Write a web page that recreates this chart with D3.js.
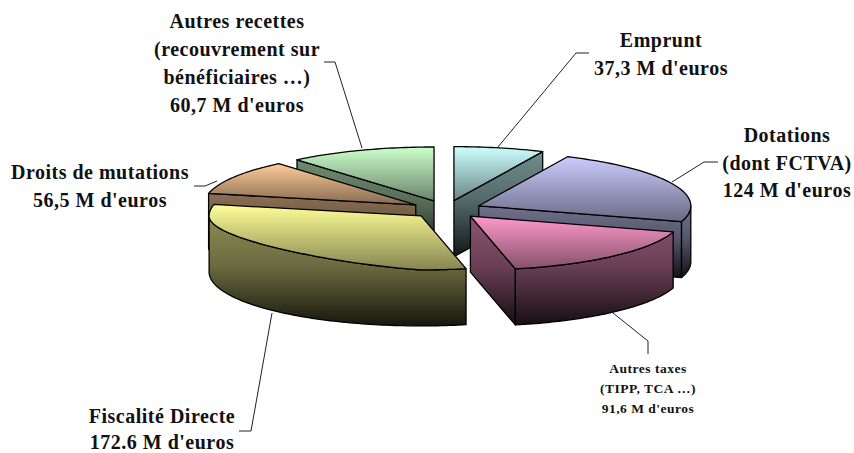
<!DOCTYPE html>
<html>
<head>
<meta charset="utf-8">
<script src="https://cdn.jsdelivr.net/npm/d3@7"></script>
<style>
  html, body { margin: 0; padding: 0; background: #fff; }
  svg { display: block; }
  text { font-family: "Liberation Serif", serif; font-weight: bold; fill: #111; text-anchor: middle; letter-spacing: 0.5px; }
</style>
</head>
<body>
<svg width="854" height="453"></svg>
<script>
// clockwise from 12 o'clock
const categories = ['Emprunt', 'Dotations', 'Autres taxes', 'Fiscalité Directe', 'Droits de mutations', 'Autres recettes']
const values = [37.3, 124, 91.6, 172.6, 56.5, 60.7]
const colors = ['#ccffff', '#ccccff', '#ff99cc', '#ffff99', '#ffcc99', '#ccffcc']

const labelLines = [
  ['Emprunt', "37,3 M d'euros"],
  ['Dotations', '(dont FCTVA)', "124 M d'euros"],
  ['Autres taxes', '(TIPP, TCA …)', "91,6 M d'euros"],
  ['Fiscalité Directe', "172.6 M d'euros"],
  ['Droits de mutations', "56,5 M d'euros"],
  ['Autres recettes', '(recouvrement sur', 'bénéficiaires …)', "60,7 M d'euros"]
]

// label placement: centre x, first baseline, line step, font size
const labelX = [661, 787, 648, 162, 100, 237]
const labelY = [47, 142, 373, 423, 179, 28]
const labelStep = [28, 27.5, 20, 25.5, 28, 28]
const labelSize = [20, 20, 13.5, 20, 20, 20]

// leader lines, in page pixels
const leaders = [
  [[498, 147], [576, 53], [589, 53]],
  [[672, 182], [704, 162], [718, 162]],
  [[613, 313], [648, 341], [648, 354]],
  [[272, 313], [251, 431], [239, 431]],
  [[217, 181], [205, 186], [194, 186]],
  [[362, 148], [335, 62], [324, 62]]
]

const cx = 446.3, cy = 209.5, rx = 212, ry = 54
const depth = 56
const explode = 0.168
const flatten = 7.5 // the reference's top rim sits higher in the front left quarter

const svg = d3.select('svg')
const defs = svg.append('defs')

// unit disc -> page
const x = d3.scaleLinear().domain([-1, 1]).range([cx - rx, cx + rx])
const y = d3.scaleLinear().domain([-1, 1]).range([cy + ry, cy - ry])

const pie = d3.pie().sort(null).startAngle(0).endAngle(2 * Math.PI)
const slices = pie(values).map((d, i) => {
  const mid = (d.startAngle + d.endAngle) / 2
  return { ...d, i, mid, ox: explode * Math.sin(mid), oy: explode * Math.cos(mid) }
})

const px = (s, r, a) => [x(s.ox + r * Math.sin(a)), y(s.oy + r * Math.cos(a))]
const line = d3.line()
const down = p => [p[0], p[1] + depth]

function rimPoints(s, a0, a1) {
  const n = Math.max(2, Math.ceil((a1 - a0) / 0.02))
  return d3.range(n + 1).map(k => px(s, 1, a0 + (a1 - a0) * k / n))
}

function topRim(s, a0, a1) {
  const n = rimPoints(s, a0, a1).length - 1
  return rimPoints(s, a0, a1).map((p, k) => {
    const a = a0 + (a1 - a0) * k / n
    const lift = a > Math.PI && a < 3 * Math.PI / 2 ? flatten * Math.sin(2 * (a - Math.PI)) : 0
    return [p[0], p[1] - lift]
  })
}

function sidePolygons(s) {
  const polys = []
  const apex = px(s, 0, 0)
  if (Math.sin(s.startAngle) < -1e-6) {
    const p = px(s, 1, s.startAngle)
    polys.push([apex, p, down(p), down(apex)])
  }
  if (Math.sin(s.endAngle) > 1e-6) {
    const p = px(s, 1, s.endAngle)
    polys.push([apex, p, down(p), down(apex)])
  }
  const a0 = Math.max(s.startAngle, Math.PI / 2)
  const a1 = Math.min(s.endAngle, 3 * Math.PI / 2)
  if (a1 > a0) {
    polys.push(topRim(s, a0, a1).concat(rimPoints(s, a0, a1).map(down).reverse()))
  }
  return polys
}

const shade = (c, k) => {
  const r = d3.rgb(c)
  return d3.rgb(r.r * k, r.g * k, r.b * k).formatHex()
}

function topGradient(id, c) {
  const g = defs.append('linearGradient').attr('id', id)
    .attr('x1', 0).attr('y1', 0).attr('x2', 0).attr('y2', 1)
  g.append('stop').attr('offset', 0).attr('stop-color', c)
  g.append('stop').attr('offset', 1).attr('stop-color', shade(c, 0.52))
}

function sideGradient(id, c, y0, y1) {
  const g = defs.append('linearGradient').attr('id', id)
    .attr('gradientUnits', 'userSpaceOnUse')
    .attr('x1', 0).attr('x2', 0).attr('y1', y0).attr('y2', y1)
  g.append('stop').attr('offset', 0).attr('stop-color', shade(c, 0.55))
  g.append('stop').attr('offset', 0.45).attr('stop-color', shade(c, 0.42))
  g.append('stop').attr('offset', 1).attr('stop-color', shade(c, 0.09))
}

// back to front
const ordered = slices.slice().sort((a, b) => d3.descending(a.oy, b.oy))

const chart = svg.append('g')
  .attr('stroke', '#000')
  .attr('stroke-width', 1.3)
  .attr('stroke-linejoin', 'round')

ordered.forEach(s => {
  const c = colors[s.i]
  const polys = sidePolygons(s)
  const ys = polys.flat().map(p => p[1])
  sideGradient('side' + s.i, c, d3.min(ys), d3.max(ys))
  topGradient('top' + s.i, c)

  const g = chart.append('g').attr('class', 'slice')
  g.selectAll('path.side').data(polys).join('path')
    .attr('class', 'side')
    .attr('d', p => line(p) + 'Z')
    .attr('fill', `url(#side${s.i})`)

  const topFace = [px(s, 0, 0)].concat(topRim(s, s.startAngle, s.endAngle))
  g.append('path')
    .attr('d', line(topFace) + 'Z')
    .attr('fill', `url(#top${s.i})`)
})

svg.append('g').selectAll('path').data(leaders).join('path')
  .attr('d', d => line(d))
  .attr('fill', 'none')
  .attr('stroke', '#222')
  .attr('stroke-width', 1)

const labels = svg.append('g').selectAll('text').data(labelLines).join('text')
  .attr('font-size', (d, i) => labelSize[i])
labels.selectAll('tspan').data((d, i) => d.map((t, k) => ({ t, k, i }))).join('tspan')
  .attr('x', d => labelX[d.i])
  .attr('y', d => labelY[d.i] + d.k * labelStep[d.i])
  .text(d => d.t)
</script>
</body>
</html>
